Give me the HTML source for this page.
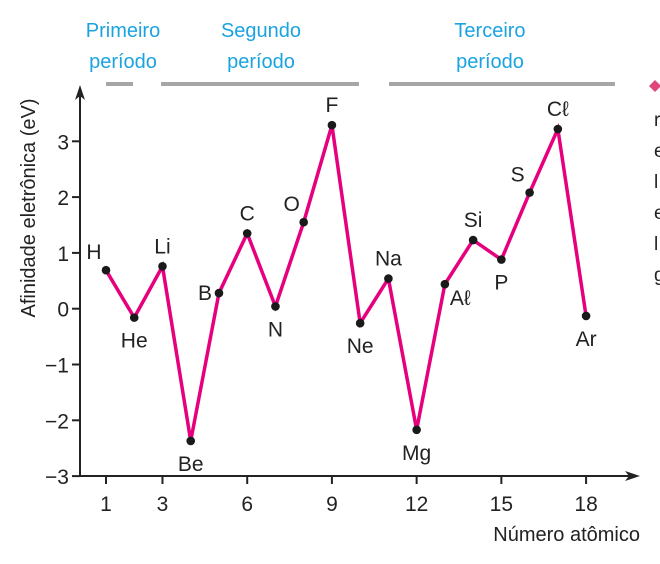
<!DOCTYPE html>
<html><head><meta charset="utf-8"><style>
html,body{margin:0;padding:0;background:#fff;}
svg{display:block;font-family:"Liberation Sans",sans-serif;}
</style></head><body>
<svg id="c" width="660" height="564">
<g font-size="20" fill="#1ba3e0" text-anchor="middle">
<text x="123" y="37">Primeiro</text>
<text x="123" y="68">período</text>
<text x="261" y="37">Segundo</text>
<text x="261" y="68">período</text>
<text x="490" y="37">Terceiro</text>
<text x="490" y="68">período</text>
<rect x="106" y="82" width="27" height="4" fill="#a6a6a6"/>
<rect x="161" y="82" width="198" height="4" fill="#a6a6a6"/>
<rect x="389" y="82" width="226" height="4" fill="#a6a6a6"/>
</g>
<g font-size="19" fill="#222">
<path d="M655 80 L661 86 L655 92 L649 86Z" fill="#e0457b"/>
<text x="654" y="126">r</text>
<text x="654" y="157">e</text>
<text x="654" y="188">l</text>
<text x="654" y="219">e</text>
<text x="654" y="250">l</text>
<text x="654" y="281">g</text>
</g>
<text x="0" y="0" transform="translate(35,208) rotate(-90)" text-anchor="middle" font-size="20" fill="#222">Afinidade eletrônica (eV)</text>
<text x="640" y="541" text-anchor="end" font-size="20" fill="#222">Número atômico</text>
<g id="axes"></g>
<g id="marks"></g>
</svg>
<script>
const atomicNumbers=[1,2,3,4,5,6,7,8,9,10,11,12,13,14,15,16,17,18];
const symbols=["H","He","Li","Be","B","C","N","O","F","Ne","Na","Mg","Aℓ","Si","P","S","Cℓ","Ar"];
const affinity=[0.69,-0.16,0.76,-2.37,0.28,1.35,0.04,1.55,3.29,-0.26,0.54,-2.17,0.44,1.23,0.88,2.08,3.22,-0.13];
const xTicks=[1,3,6,9,12,15,18];
const yTicks=[3,2,1,0,-1,-2,-3];
const labelPos=["tl","b","t","b","l","t","b","tl","t","b","t","b","br","t","b","tl","t","b"];
const NS="http://www.w3.org/2000/svg";
const X=n=>106+(n-1)*28.24;
const Y=v=>308.7-v*55.8;
function mk(t,a,p){const e=document.createElementNS(NS,t);for(const k in a)e.setAttribute(k,a[k]);p.appendChild(e);return e;}
const ax=document.getElementById('axes'),mg=document.getElementById('marks');
let l=mk('path',{d:'M80 476 L80 92',stroke:'#222','stroke-width':2,fill:'none'},ax);


l=mk('path',{d:'M80 85 L75 100 L80 96 L85 100Z',fill:'#222'},ax);


l=mk('path',{d:'M80 476 L632 476',stroke:'#222','stroke-width':2,fill:'none'},ax);


l=mk('path',{d:'M640 476 L625 471 L629 476 L625 481Z',fill:'#222'},ax);


yTicks.forEach(v=>{
 let t=mk('line',{x1:72,x2:80,y1:Y(v),y2:Y(v),stroke:'#222','stroke-width':2},ax);
 
 
 let s=mk('text',{x:69,y:Y(v)+8,'text-anchor':'end','font-size':21,fill:'#222'},ax);
 s.textContent=(v<0?'−':'')+Math.abs(v);
 
 
});
xTicks.forEach(n=>{
 let t=mk('line',{x1:X(n),x2:X(n),y1:476,y2:484,stroke:'#222','stroke-width':2},ax);
 
 
 let s=mk('text',{x:X(n),y:511,'text-anchor':'middle','font-size':21,fill:'#222'},ax);
 s.textContent=n;
 
 
});
const pts=atomicNumbers.map((n,i)=>X(n)+','+Y(affinity[i])).join(' ');
let pl=mk('polyline',{points:pts,fill:'none',stroke:'#e6007e','stroke-width':3.5,'stroke-linejoin':'miter'},mg);


atomicNumbers.forEach((n,i)=>{
 const cx=X(n),cy=Y(affinity[i]);
 let c=mk('circle',{cx:cx,cy:cy,r:4.3,fill:'#1a1a1a'},mg);
 
 
 const p=labelPos[i];let tx=cx,ty=cy,an='middle';
 if(p==='t'){ty=cy-13;}
 else if(p==='b'){ty=cy+30;}
 else if(p==='tl'){tx=cx-12;ty=cy-11;}
 else if(p==='l'){tx=cx-7;ty=cy+7;an='end';}
 else if(p==='br'){tx=cx+5;ty=cy+21;an='start';}
 let s=mk('text',{x:tx,y:ty,'text-anchor':an,'font-size':21,fill:'#222'},mg);
 s.textContent=symbols[i];
 
 
});
</script>
</body></html>
